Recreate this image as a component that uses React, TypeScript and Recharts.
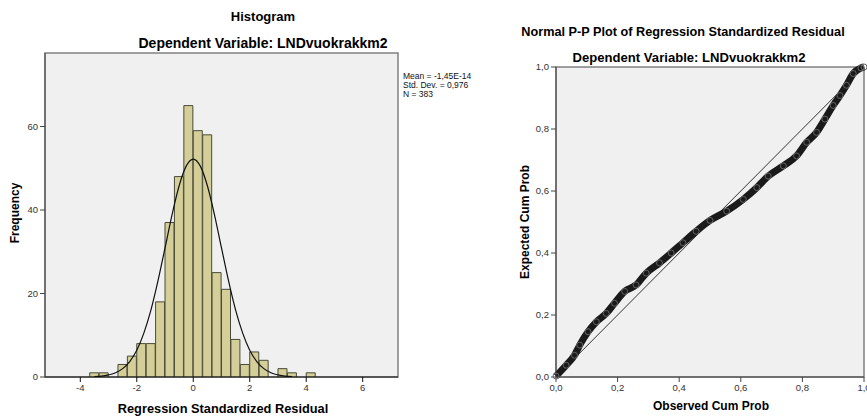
import React from "react";
import {
  Bar,
  CartesianGrid,
  ComposedChart,
  Line,
  ReferenceArea,
  ReferenceLine,
  Scatter,
  XAxis,
  YAxis,
} from "recharts";

// histogram of residuals, bins 1/3 wide starting at -11/3
const binStart = -11 / 3;
const binWidth = 1 / 3;
const binCounts = [1, 1, 0, 3, 5, 8, 8, 18, 37, 48, 65, 59, 58, 25, 21, 9, 3, 6, 4, 0, 2, 1, 0, 1];

// normal curve
const curveX = [-3.5, -3.25, -3, -2.75, -2.5, -2.25, -2, -1.75, -1.5, -1.25, -1, -0.75, -0.5, -0.25, 0, 0.25, 0.5, 0.75, 1, 1.25, 1.5, 1.75, 2, 2.25, 2.5, 2.75, 3, 3.25, 3.5];
const curveY = [0.1, 0.2, 0.5, 1.0, 2.0, 3.7, 6.4, 10.5, 16.0, 23.0, 30.9, 38.9, 45.8, 50.5, 52.2, 50.5, 45.8, 38.9, 30.9, 23.0, 16.0, 10.5, 6.4, 3.7, 2.0, 1.0, 0.5, 0.2, 0.1];

const histXTicks = [-4, -2, 0, 2, 4, 6];
const histYTicks = [0, 20, 40, 60];

// P-P plot
const obsProb = [0, 0.033, 0.06, 0.077, 0.104, 0.131, 0.163, 0.19, 0.223, 0.26, 0.293, 0.336, 0.374, 0.412, 0.455, 0.5, 0.554, 0.608, 0.652, 0.689, 0.738, 0.781, 0.814, 0.846, 0.873, 0.9, 0.922, 0.943, 0.965, 0.99, 1.0];
const expProb = [0.003, 0.038, 0.07, 0.103, 0.146, 0.178, 0.205, 0.238, 0.276, 0.297, 0.335, 0.368, 0.4, 0.433, 0.47, 0.505, 0.535, 0.573, 0.611, 0.648, 0.681, 0.713, 0.757, 0.789, 0.832, 0.876, 0.908, 0.941, 0.979, 0.997, 1.0];
const ppTicks = [0, 0.2, 0.4, 0.6, 0.8, 1.0];

const histData = binCounts.map((count, i) => ({ x: binStart + (i + 0.5) * binWidth, count }));
const curveData = curveX.map((x, i) => ({ x, y: curveY[i] }));
const ppData = obsProb.map((obs, i) => ({ obs, exp: expProb[i] }));

const FONT = "'Liberation Sans', Arial, sans-serif";
const tickStyle = { fontSize: 9.5, fill: "#333", fontFamily: FONT };
const comma = (v: number) => v.toFixed(1).replace(".", ",");

const H_DOMAIN: [number, number] = [-5.25, 7.25];
const H_YMAX = 77.6;

const text = (s: string, style: React.CSSProperties) => (
  <div style={{ position: "absolute", whiteSpace: "nowrap", fontFamily: FONT, ...style }}>{s}</div>
);

function Histogram() {
  return (
    <div style={{ position: "absolute", left: 0, top: 0 }}>
      <ComposedChart
        width={400}
        height={416}
        data={histData}
        margin={{ top: 53, right: 2, bottom: 19, left: 0 }}
        barCategoryGap={0}
        barGap={0}
      >
        <CartesianGrid fill="#f0f0f0" stroke="none" />
        <XAxis
          dataKey="x"
          type="number"
          domain={H_DOMAIN}
          allowDataOverflow
          ticks={histXTicks}
          tick={tickStyle}
          tickSize={5}
          height={20}
          stroke="#111"
        />
        <XAxis xAxisId="curve" dataKey="x" type="number" domain={H_DOMAIN} allowDataOverflow hide />
        <YAxis
          type="number"
          domain={[0, H_YMAX]}
          allowDataOverflow
          ticks={histYTicks}
          tick={tickStyle}
          tickSize={5}
          width={45}
          stroke="#444"
        />
        <ReferenceArea x1={H_DOMAIN[0]} x2={H_DOMAIN[1]} y1={0} y2={H_YMAX} fill="none" stroke="#808080" strokeWidth={1.5} />
        <Bar dataKey="count" fill="#d4cf98" stroke="#4a4a38" strokeWidth={1} isAnimationActive={false} />
        <Line
          xAxisId="curve"
          data={curveData}
          dataKey="y"
          type="monotone"
          stroke="#111"
          strokeWidth={1.2}
          dot={false}
          isAnimationActive={false}
        />
      </ComposedChart>
      {text("Histogram", { left: 263, top: 9, transform: "translateX(-50%)", fontSize: 13, fontWeight: "bold" })}
      {text("Dependent Variable: LNDvuokrakkm2", { left: 263, top: 35, transform: "translateX(-50%)", fontSize: 14, fontWeight: "bold" })}
      {text("Frequency", { left: 15, top: 213, transform: "translate(-50%, -50%) rotate(-90deg)", fontSize: 12, fontWeight: "bold" })}
      {text("Regression Standardized Residual", { left: 223, top: 401, transform: "translateX(-50%)", fontSize: 12.8, fontWeight: "bold" })}
      <div style={{ position: "absolute", left: 403, top: 72, whiteSpace: "nowrap", fontFamily: FONT, fontSize: 8.5, lineHeight: "9px", color: "#111" }}>
        <div>Mean = -1,45E-14</div>
        <div>Std. Dev. = 0,976</div>
        <div>N = 383</div>
      </div>
    </div>
  );
}

function PPPlot() {
  return (
    <div style={{ position: "absolute", left: 500, top: 0 }}>
      <ComposedChart width={380} height={416} margin={{ top: 67, right: 16, bottom: 19, left: 0 }}>
        <CartesianGrid fill="#f0f0f0" stroke="none" />
        <XAxis
          dataKey="obs"
          type="number"
          domain={[0, 1]}
          ticks={ppTicks}
          tickFormatter={comma}
          tick={tickStyle}
          tickSize={5}
          height={20}
          stroke="#444"
        />
        <YAxis
          dataKey="exp"
          type="number"
          domain={[0, 1]}
          ticks={ppTicks}
          tickFormatter={comma}
          tick={tickStyle}
          tickSize={5}
          width={56}
          stroke="#444"
        />
        <ReferenceArea x1={0} x2={1} y1={0} y2={1} fill="none" stroke="#808080" strokeWidth={1.5} />
        <ReferenceLine segment={[{ x: 0, y: 0 }, { x: 1, y: 1 }]} stroke="#333" strokeWidth={1} />
        <Line
          data={ppData}
          dataKey="exp"
          type="monotone"
          stroke="#1a1a1a"
          strokeWidth={7}
          dot={false}
          isAnimationActive={false}
        />
        <Scatter
          data={ppData}
          dataKey="exp"
          shape={(p: any) => <circle cx={p.cx} cy={p.cy} r={3} fill="none" stroke="#666" strokeWidth={1} />}
          isAnimationActive={false}
        />
      </ComposedChart>
      {text("Normal P-P Plot of Regression Standardized Residual", { left: 183, top: 25, transform: "translateX(-50%)", fontSize: 12.7, fontWeight: "bold" })}
      {text("Dependent Variable: LNDvuokrakkm2", { left: 189, top: 50, transform: "translateX(-50%)", fontSize: 13.1, fontWeight: "bold" })}
      {text("Expected Cum Prob", { left: 25, top: 222, transform: "translate(-50%, -50%) rotate(-90deg)", fontSize: 12, fontWeight: "bold" })}
      {text("Observed Cum Prob", { left: 211, top: 399, transform: "translateX(-50%)", fontSize: 12, fontWeight: "bold" })}
    </div>
  );
}

export default function App() {
  return (
    <div style={{ position: "absolute", left: 0, top: 0, width: 867, height: 416, overflow: "hidden", background: "#fff" }}>
      <Histogram />
      <PPPlot />
    </div>
  );
}
